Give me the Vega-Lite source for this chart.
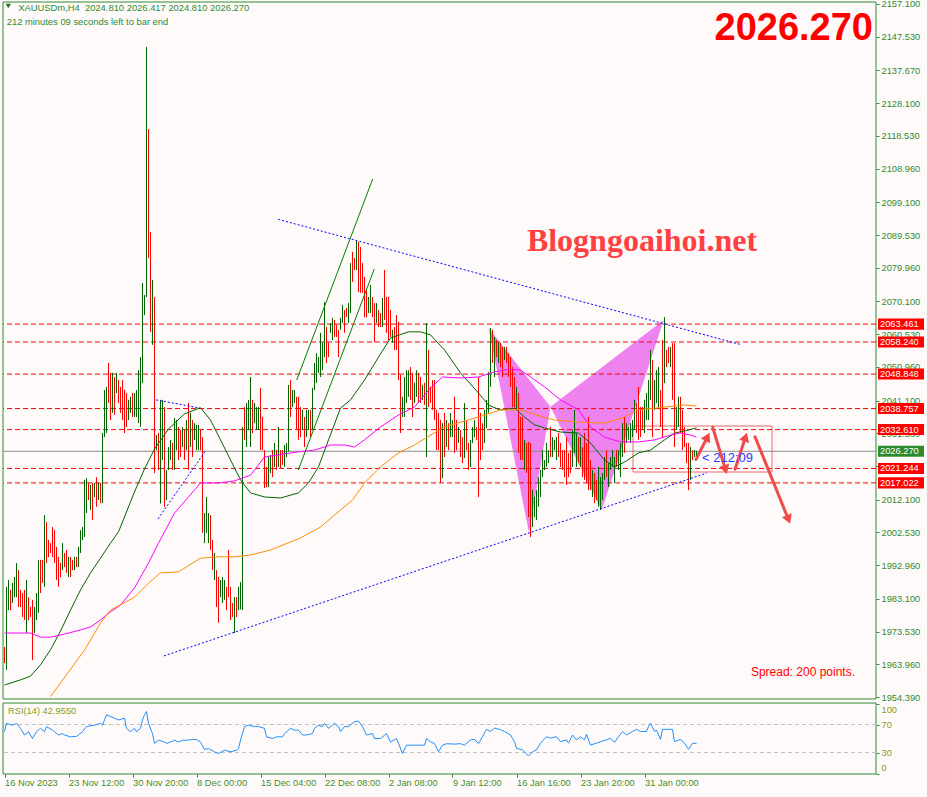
{
"$schema":"https://vega.github.io/schema/vega-lite/v6.json",
"width":873,"height":772,
"autosize":{"type":"none"},
"padding":{"left":3,"top":2,"right":51,"bottom":23},
"background":"#fffafa",
"config":{"font":"Liberation Sans","view":{"stroke":null},"axis":{"grid":false,"domain":false,"labelFont":"Liberation Sans","labelFontSize":9.3,"labelColor":"#2e8b2e","tickColor":"#2e8b2e","tickSize":3,"labelOverlap":false,"labelPadding":2}},
"datasets":{
"k":[
{"i":0,"o":1968,"h":1969,"l":1964.3,"c":1965},{"i":1,"o":1965,"h":1986.6,"l":1962.3,"c":1985},{"i":2,"o":1984.5,"h":1988.6,"l":1979.8,"c":1987},{"i":3,"o":1985.5,"h":1985.7,"l":1979.8,"c":1981},{"i":4,"o":1982,"h":1987.8,"l":1981.9,"c":1986},{"i":5,"o":1986,"h":1989.5,"l":1983.6,"c":1988.5},{"i":6,"o":1985,"h":1993.6,"l":1983.6,"c":1992},{"i":7,"o":1991,"h":1991.5,"l":1980.7,"c":1984},{"i":8,"o":1984,"h":1985.7,"l":1980.7,"c":1981.5},{"i":9,"o":1982,"h":1984.8,"l":1977.8,"c":1979},
{"i":10,"o":1983,"h":1985.7,"l":1976.9,"c":1978},{"i":11,"o":1977,"h":1988.6,"l":1973.1,"c":1986},{"i":12,"o":1983,"h":1983.6,"l":1976.9,"c":1978},{"i":13,"o":1980,"h":1980.7,"l":1977.8,"c":1978},{"i":14,"o":1981,"h":1982.8,"l":1965.2,"c":1970},{"i":15,"o":1974,"h":1980.7,"l":1973.1,"c":1979},{"i":16,"o":1978,"h":1984.8,"l":1976.9,"c":1984},{"i":17,"o":1981,"h":1994.5,"l":1979,"c":1992},{"i":18,"o":1992,"h":1994.5,"l":1984.8,"c":1987},{"i":19,"o":1993,"h":1994.5,"l":1987.8,"c":1989},
{"i":20,"o":1990,"h":2007.6,"l":1986.6,"c":2005},{"i":21,"o":2004.5,"h":2005.6,"l":1993.6,"c":1997},{"i":22,"o":1999,"h":2000.3,"l":1995.3,"c":1996},{"i":23,"o":1998.5,"h":1999.4,"l":1996.5,"c":1997},{"i":24,"o":2002,"h":2004.1,"l":1995.3,"c":1996},{"i":25,"o":1999,"h":2003.2,"l":1993.6,"c":1994},{"i":26,"o":1996,"h":1998.3,"l":1988.6,"c":1990},{"i":27,"o":1992,"h":1995.4,"l":1986.6,"c":1988},{"i":28,"o":1992,"h":1993.6,"l":1989.5,"c":1990},{"i":29,"o":1991.6,"h":1999.4,"l":1991.5,"c":1997},
{"i":30,"o":1996,"h":1996.5,"l":1992.4,"c":1993},{"i":31,"o":1995,"h":1997.4,"l":1990.7,"c":1991.5},{"i":32,"o":1991,"h":1995.4,"l":1989.5,"c":1995},{"i":33,"o":1994.5,"h":1995.4,"l":1989.5,"c":1990},{"i":34,"o":1993.5,"h":1994.5,"l":1991.5,"c":1992},{"i":35,"o":1992,"h":1995.4,"l":1991.5,"c":1995},{"i":36,"o":1995,"h":1995.4,"l":1992.4,"c":1993},{"i":37,"o":1993,"h":1998.3,"l":1992.4,"c":1997.5},{"i":38,"o":1997,"h":2003.2,"l":1996.5,"c":2002.5},{"i":39,"o":2001,"h":2004.1,"l":2000.3,"c":2003.5},
{"i":40,"o":2003,"h":2017.9,"l":2001.2,"c":2016},{"i":41,"o":2010,"h":2018.4,"l":2008.2,"c":2017},{"i":42,"o":2016.5,"h":2017,"l":2012,"c":2013},{"i":43,"o":2012,"h":2016.4,"l":2009.1,"c":2015.5},{"i":44,"o":2015.5,"h":2017,"l":2006.2,"c":2008},{"i":45,"o":2013,"h":2017,"l":2012.9,"c":2016},{"i":46,"o":2016,"h":2018.7,"l":2010,"c":2011},{"i":47,"o":2012,"h":2017,"l":2012,"c":2016},{"i":48,"o":2016,"h":2017,"l":2011.1,"c":2012},{"i":49,"o":2012,"h":2031.6,"l":2011.1,"c":2030},
{"i":50,"o":2031,"h":2044.2,"l":2030.4,"c":2042},{"i":51,"o":2036,"h":2045.1,"l":2031.6,"c":2043},{"i":52,"o":2047,"h":2052.1,"l":2040.4,"c":2042},{"i":53,"o":2046,"h":2049.2,"l":2035.4,"c":2038},{"i":54,"o":2040,"h":2049.2,"l":2037.5,"c":2047},{"i":55,"o":2047,"h":2048,"l":2036.9,"c":2040},{"i":56,"o":2044,"h":2049.2,"l":2043.3,"c":2048},{"i":57,"o":2047,"h":2047.1,"l":2040.4,"c":2041},{"i":58,"o":2043,"h":2045.1,"l":2037.5,"c":2039},{"i":59,"o":2045,"h":2047.1,"l":2035.4,"c":2038},
{"i":60,"o":2041,"h":2044.2,"l":2031.6,"c":2034},{"i":61,"o":2038,"h":2043.3,"l":2033.4,"c":2035},{"i":62,"o":2036,"h":2041.3,"l":2035.4,"c":2040},{"i":63,"o":2038.5,"h":2042.2,"l":2037.5,"c":2041},{"i":64,"o":2042,"h":2043.3,"l":2036.3,"c":2038},{"i":65,"o":2038,"h":2043.3,"l":2036.3,"c":2042},{"i":66,"o":2038,"h":2044.2,"l":2036.3,"c":2043},{"i":67,"o":2040,"h":2050,"l":2034.5,"c":2048},{"i":68,"o":2044,"h":2053.8,"l":2033.4,"c":2052},{"i":69,"o":2050,"h":2075.5,"l":2046.2,"c":2073},
{"i":70,"o":2068,"h":2072,"l":2066.1,"c":2071},{"i":71,"o":2071.5,"h":2144.5,"l":2071.4,"c":2118},{"i":72,"o":2118,"h":2120.5,"l":2082.8,"c":2085},{"i":73,"o":2086,"h":2090.4,"l":2061.2,"c":2064},{"i":74,"o":2062,"h":2076.4,"l":2057.4,"c":2072},{"i":75,"o":2070,"h":2071.4,"l":2019.9,"c":2028},{"i":76,"o":2027,"h":2031,"l":2026.6,"c":2030},{"i":77,"o":2030,"h":2031.6,"l":2020.8,"c":2022},{"i":78,"o":2022,"h":2041.3,"l":2011,"c":2038},{"i":79,"o":2030,"h":2041.3,"l":2023.7,"c":2040},
{"i":80,"o":2037,"h":2039.2,"l":2010,"c":2015},{"i":81,"o":2014,"h":2020.8,"l":2012,"c":2019},{"i":82,"o":2021,"h":2027.5,"l":2020.8,"c":2026},{"i":83,"o":2025,"h":2029.6,"l":2023.7,"c":2028},{"i":84,"o":2028,"h":2028.7,"l":2020.8,"c":2023},{"i":85,"o":2022,"h":2036,"l":2020.8,"c":2034},{"i":86,"o":2030,"h":2035.4,"l":2026.6,"c":2034},{"i":87,"o":2033,"h":2033.4,"l":2023.7,"c":2026},{"i":88,"o":2031,"h":2032.5,"l":2024.6,"c":2027},{"i":89,"o":2028,"h":2033.4,"l":2027.5,"c":2032},
{"i":90,"o":2032,"h":2032.5,"l":2023.7,"c":2025},{"i":91,"o":2027,"h":2035.4,"l":2026.6,"c":2034},{"i":92,"o":2036,"h":2040.4,"l":2020.8,"c":2024},{"i":93,"o":2028,"h":2037.5,"l":2027.5,"c":2036},{"i":94,"o":2034,"h":2035.4,"l":2024.6,"c":2027},{"i":95,"o":2030,"h":2034.5,"l":2029.6,"c":2033},{"i":96,"o":2029,"h":2034,"l":2026.6,"c":2033},{"i":97,"o":2030,"h":2034,"l":2026.6,"c":2032.5},{"i":98,"o":2032,"h":2032.5,"l":2026.6,"c":2028},{"i":99,"o":2028,"h":2030.4,"l":2002.4,"c":2005},
{"i":100,"o":2002,"h":2008.2,"l":1999.4,"c":2006},{"i":101,"o":2004,"h":2012.9,"l":2002.4,"c":2011},{"i":102,"o":2003,"h":2008.2,"l":1999.4,"c":2007},{"i":103,"o":2007,"h":2007.6,"l":1997.4,"c":1999},{"i":104,"o":1999,"h":2000.3,"l":1991.5,"c":1993},{"i":105,"o":1990,"h":1996.5,"l":1988.6,"c":1995},{"i":106,"o":1991,"h":1991.5,"l":1980.7,"c":1983},{"i":107,"o":1985,"h":1989.5,"l":1976.1,"c":1979},{"i":108,"o":1984,"h":1988.6,"l":1983.6,"c":1987},{"i":109,"o":1984,"h":1989.5,"l":1981.9,"c":1988},
{"i":110,"o":1985,"h":1988.6,"l":1982.8,"c":1988},{"i":111,"o":1986,"h":1986.6,"l":1979.8,"c":1981},{"i":112,"o":1993,"h":1997.4,"l":1983.6,"c":1985},{"i":113,"o":1985,"h":1986.6,"l":1976.9,"c":1979},{"i":114,"o":1981,"h":1981.9,"l":1977.8,"c":1978.5},{"i":115,"o":1975,"h":1983.6,"l":1973.1,"c":1981},{"i":116,"o":1982,"h":1983.6,"l":1977.8,"c":1979},{"i":117,"o":1980,"h":1986.6,"l":1979.8,"c":1985},{"i":118,"o":1982,"h":1988,"l":1980,"c":1986},{"i":119,"o":1984,"h":2033.4,"l":1979.8,"c":2031},
{"i":120,"o":2036,"h":2039.2,"l":2029.6,"c":2031},{"i":121,"o":2030,"h":2040.4,"l":2027.5,"c":2038},{"i":122,"o":2035,"h":2041.3,"l":2032.5,"c":2040},{"i":123,"o":2032,"h":2048,"l":2027.5,"c":2045},{"i":124,"o":2040,"h":2041.3,"l":2031.6,"c":2034},{"i":125,"o":2035,"h":2040.4,"l":2034.5,"c":2039},{"i":126,"o":2034,"h":2039.2,"l":2032.5,"c":2038},{"i":127,"o":2034,"h":2039.2,"l":2032.5,"c":2038.5},{"i":128,"o":2040,"h":2044.8,"l":2026.6,"c":2030},{"i":129,"o":2033,"h":2036.3,"l":2026.6,"c":2028},
{"i":130,"o":2026,"h":2026.6,"l":2015.5,"c":2018},{"i":131,"o":2020,"h":2021.7,"l":2015.8,"c":2017},{"i":132,"o":2017,"h":2024.6,"l":2015.8,"c":2023},{"i":133,"o":2021,"h":2025.2,"l":2019.9,"c":2024},{"i":134,"o":2025,"h":2026.6,"l":2018.7,"c":2020},{"i":135,"o":2022,"h":2028.7,"l":2021.7,"c":2027},{"i":136,"o":2026,"h":2026.6,"l":2020.8,"c":2022},{"i":137,"o":2023,"h":2033.4,"l":2021.7,"c":2031},{"i":138,"o":2026,"h":2026.6,"l":2021.4,"c":2022.5},{"i":139,"o":2025.5,"h":2026.6,"l":2022.3,"c":2023},
{"i":140,"o":2023,"h":2028.1,"l":2021.7,"c":2027},{"i":141,"o":2025,"h":2028.7,"l":2024.6,"c":2028},{"i":142,"o":2027,"h":2045.7,"l":2026.1,"c":2044},{"i":143,"o":2045,"h":2047.1,"l":2036.3,"c":2039},{"i":144,"o":2039.5,"h":2044.2,"l":2039.2,"c":2043.5},{"i":145,"o":2041,"h":2044.2,"l":2040.4,"c":2043.5},{"i":146,"o":2041.5,"h":2042.2,"l":2032.5,"c":2035},{"i":147,"o":2040,"h":2042.2,"l":2029.6,"c":2032},{"i":148,"o":2036,"h":2039.2,"l":2030.4,"c":2032},{"i":149,"o":2033,"h":2038.4,"l":2032.5,"c":2037},
{"i":150,"o":2035,"h":2036.3,"l":2027.5,"c":2030},{"i":151,"o":2031,"h":2038.4,"l":2030.4,"c":2037},{"i":152,"o":2034,"h":2038.4,"l":2032.5,"c":2037.5},{"i":153,"o":2037,"h":2038.4,"l":2030.4,"c":2032},{"i":154,"o":2033,"h":2044.8,"l":2032.5,"c":2043},{"i":155,"o":2045,"h":2052.1,"l":2044.2,"c":2051},{"i":156,"o":2048,"h":2055,"l":2046.3,"c":2053},{"i":157,"o":2050,"h":2053.8,"l":2049.2,"c":2053},{"i":158,"o":2050,"h":2060.9,"l":2048,"c":2059},{"i":159,"o":2052,"h":2058,"l":2050,"c":2057},
{"i":160,"o":2056,"h":2069.9,"l":2053.8,"c":2068},{"i":161,"o":2061,"h":2062.6,"l":2052.1,"c":2054},{"i":162,"o":2057.5,"h":2058,"l":2053.8,"c":2054.5},{"i":163,"o":2061,"h":2063.8,"l":2060.9,"c":2063},{"i":164,"o":2060,"h":2065.3,"l":2058.8,"c":2064},{"i":165,"o":2064,"h":2064.7,"l":2059.7,"c":2061},{"i":166,"o":2062.5,"h":2063.2,"l":2059.7,"c":2060.5},{"i":167,"o":2061,"h":2061.8,"l":2053.8,"c":2056},{"i":168,"o":2062,"h":2065.3,"l":2061.8,"c":2065},{"i":169,"o":2064,"h":2069.1,"l":2063.8,"c":2068},
{"i":170,"o":2067,"h":2067.6,"l":2060.9,"c":2062},{"i":171,"o":2068,"h":2068.2,"l":2065.5,"c":2066},{"i":172,"o":2065,"h":2069.6,"l":2063.8,"c":2069},{"i":173,"o":2068,"h":2081.3,"l":2066.7,"c":2079},{"i":174,"o":2083,"h":2084.6,"l":2075.8,"c":2078},{"i":175,"o":2082,"h":2082.8,"l":2079.3,"c":2080},{"i":176,"o":2080,"h":2088.1,"l":2079.3,"c":2087},{"i":177,"o":2086,"h":2087.5,"l":2072.9,"c":2075},{"i":178,"o":2084,"h":2086,"l":2072.6,"c":2075},{"i":179,"o":2079,"h":2081.3,"l":2072.6,"c":2074},
{"i":180,"o":2075,"h":2077.3,"l":2065.5,"c":2068},{"i":181,"o":2071,"h":2073.4,"l":2065.5,"c":2067},{"i":182,"o":2067,"h":2071.4,"l":2066.7,"c":2070.5},{"i":183,"o":2068,"h":2074.9,"l":2066.7,"c":2073},{"i":184,"o":2071,"h":2071.4,"l":2065.5,"c":2067},{"i":185,"o":2068,"h":2069.6,"l":2058.2,"c":2061},{"i":186,"o":2064,"h":2069.6,"l":2063.8,"c":2068.5},{"i":187,"o":2067,"h":2067.6,"l":2062.6,"c":2064},{"i":188,"o":2066,"h":2066.7,"l":2062.6,"c":2063.5},{"i":189,"o":2063,"h":2071.1,"l":2062.6,"c":2069},
{"i":190,"o":2077,"h":2079.3,"l":2064.7,"c":2067},{"i":191,"o":2070,"h":2071.4,"l":2060.9,"c":2063},{"i":192,"o":2068,"h":2071.4,"l":2058.8,"c":2061},{"i":193,"o":2066,"h":2067.6,"l":2059.7,"c":2061},{"i":194,"o":2058.5,"h":2061.8,"l":2058,"c":2061},{"i":195,"o":2061,"h":2062.6,"l":2055.9,"c":2057},{"i":196,"o":2063,"h":2066.1,"l":2055.9,"c":2057},{"i":197,"o":2060,"h":2064.1,"l":2047.1,"c":2049},{"i":198,"o":2048,"h":2048.6,"l":2031.6,"c":2035},{"i":199,"o":2037,"h":2042.2,"l":2036.3,"c":2041},
{"i":200,"o":2038,"h":2048,"l":2036.3,"c":2046},{"i":201,"o":2042,"h":2050,"l":2040.4,"c":2048},{"i":202,"o":2043,"h":2050,"l":2042.2,"c":2049},{"i":203,"o":2049,"h":2050.9,"l":2041.3,"c":2043},{"i":204,"o":2046,"h":2049.2,"l":2036.3,"c":2039},{"i":205,"o":2041,"h":2046.3,"l":2040.4,"c":2045},{"i":206,"o":2043,"h":2050,"l":2042.2,"c":2048},{"i":207,"o":2048,"h":2049.2,"l":2040.4,"c":2042},{"i":208,"o":2046,"h":2048,"l":2040.4,"c":2041.5},{"i":209,"o":2042,"h":2045.7,"l":2041.3,"c":2045},
{"i":210,"o":2045,"h":2046.3,"l":2039.8,"c":2041},{"i":211,"o":2040,"h":2063.8,"l":2024.6,"c":2058},{"i":212,"o":2055,"h":2055.9,"l":2039.2,"c":2042},{"i":213,"o":2044,"h":2045.1,"l":2040.4,"c":2041.5},{"i":214,"o":2045,"h":2047.1,"l":2038.4,"c":2040},{"i":215,"o":2044,"h":2047.1,"l":2035.4,"c":2037},{"i":216,"o":2037,"h":2038.4,"l":2026.6,"c":2029},{"i":217,"o":2033,"h":2037.5,"l":2026.6,"c":2028},{"i":218,"o":2032,"h":2035.4,"l":2017,"c":2020},{"i":219,"o":2021,"h":2034.5,"l":2018.4,"c":2032},
{"i":220,"o":2035,"h":2037.5,"l":2024.6,"c":2027},{"i":221,"o":2028,"h":2035.4,"l":2027.5,"c":2034},{"i":222,"o":2033.5,"h":2034.5,"l":2026.6,"c":2028},{"i":223,"o":2031,"h":2037.5,"l":2030.4,"c":2036.5},{"i":224,"o":2031,"h":2035.4,"l":2030.4,"c":2035},{"i":225,"o":2037,"h":2042.2,"l":2025.8,"c":2028},{"i":226,"o":2034,"h":2035.4,"l":2026.6,"c":2029},{"i":227,"o":2029,"h":2033.4,"l":2028.7,"c":2033},{"i":228,"o":2032,"h":2032.5,"l":2024.6,"c":2026},{"i":229,"o":2028,"h":2030.4,"l":2022.8,"c":2024},
{"i":230,"o":2025,"h":2040.4,"l":2024.3,"c":2038},{"i":231,"o":2034,"h":2035.4,"l":2026.6,"c":2028},{"i":232,"o":2028,"h":2028.7,"l":2020.8,"c":2022},{"i":233,"o":2022,"h":2029.6,"l":2021.7,"c":2028.5},{"i":234,"o":2029,"h":2033.4,"l":2028.7,"c":2033},{"i":235,"o":2031,"h":2035.4,"l":2030.4,"c":2035},{"i":236,"o":2033,"h":2033.4,"l":2029.6,"c":2030.5},{"i":237,"o":2031,"h":2048,"l":2012.9,"c":2018},{"i":238,"o":2031,"h":2037.5,"l":2023.7,"c":2026},{"i":239,"o":2032,"h":2034.5,"l":2026.6,"c":2028},
{"i":240,"o":2029,"h":2038.4,"l":2028.7,"c":2037},{"i":241,"o":2035,"h":2041.3,"l":2033.1,"c":2040},{"i":242,"o":2039,"h":2049.5,"l":2037.5,"c":2048},{"i":243,"o":2047,"h":2062.3,"l":2045.1,"c":2060},{"i":244,"o":2060,"h":2061.8,"l":2052.1,"c":2054},{"i":245,"o":2050,"h":2059.7,"l":2048,"c":2058},{"i":246,"o":2058,"h":2058.8,"l":2053.8,"c":2055},{"i":247,"o":2053,"h":2058,"l":2052.1,"c":2057},{"i":248,"o":2057,"h":2058,"l":2050.9,"c":2052},{"i":249,"o":2054,"h":2056.8,"l":2048,"c":2049.5},
{"i":250,"o":2053.5,"h":2056.8,"l":2053,"c":2056},{"i":251,"o":2056,"h":2056.8,"l":2052.1,"c":2053},{"i":252,"o":2054,"h":2055,"l":2048,"c":2049},{"i":253,"o":2052,"h":2053.8,"l":2045.1,"c":2047},{"i":254,"o":2049,"h":2050.9,"l":2039.2,"c":2041},{"i":255,"o":2045,"h":2048,"l":2039.2,"c":2040},{"i":256,"o":2039,"h":2045.1,"l":2038.4,"c":2044},{"i":257,"o":2043,"h":2043.3,"l":2025.8,"c":2029},{"i":258,"o":2032,"h":2036.3,"l":2023.7,"c":2026},{"i":259,"o":2033,"h":2036.3,"l":2023.7,"c":2025},
{"i":260,"o":2022,"h":2029.6,"l":2020.8,"c":2028},{"i":261,"o":2028,"h":2028.7,"l":2019.9,"c":2022},{"i":262,"o":2025,"h":2029,"l":2007,"c":2010},{"i":263,"o":2012,"h":2028.7,"l":2001.2,"c":2004},{"i":264,"o":2005,"h":2014.9,"l":2004.1,"c":2013},{"i":265,"o":2008,"h":2012.9,"l":2007,"c":2012},{"i":266,"o":2008,"h":2014.9,"l":2006.2,"c":2014},{"i":267,"o":2012,"h":2018.7,"l":2010,"c":2017},{"i":268,"o":2014,"h":2020.8,"l":2012.9,"c":2019.5},{"i":269,"o":2019,"h":2026.6,"l":2018.7,"c":2025.5},
{"i":270,"o":2021,"h":2023.7,"l":2020.8,"c":2023},{"i":271,"o":2022,"h":2028.7,"l":2021.7,"c":2028},{"i":272,"o":2023,"h":2026.6,"l":2022.8,"c":2026},{"i":273,"o":2030,"h":2033.4,"l":2024.6,"c":2026},{"i":274,"o":2025,"h":2030.4,"l":2024.6,"c":2030},{"i":275,"o":2027,"h":2029.6,"l":2026.6,"c":2029},{"i":276,"o":2025,"h":2030.4,"l":2023.7,"c":2030},{"i":277,"o":2030,"h":2031.6,"l":2024.6,"c":2026},{"i":278,"o":2027,"h":2028.7,"l":2021.7,"c":2023},{"i":279,"o":2025,"h":2026.6,"l":2020.8,"c":2022},
{"i":280,"o":2024,"h":2026.6,"l":2018.7,"c":2020},{"i":281,"o":2025,"h":2030.4,"l":2016.4,"c":2019},{"i":282,"o":2024,"h":2025.8,"l":2018.7,"c":2020},{"i":283,"o":2025,"h":2026.6,"l":2019.9,"c":2021},{"i":284,"o":2022,"h":2032.5,"l":2021.7,"c":2031},{"i":285,"o":2027,"h":2038.4,"l":2025.8,"c":2036},{"i":286,"o":2023,"h":2031.6,"l":2021.7,"c":2030},{"i":287,"o":2029,"h":2030.4,"l":2022.8,"c":2024},{"i":288,"o":2023,"h":2030.4,"l":2021.7,"c":2029},{"i":289,"o":2027,"h":2027.5,"l":2018.7,"c":2021},
{"i":290,"o":2029,"h":2031.6,"l":2017.9,"c":2020},{"i":291,"o":2027,"h":2028.7,"l":2017,"c":2019},{"i":292,"o":2030,"h":2036.3,"l":2014.9,"c":2017},{"i":293,"o":2022,"h":2023.7,"l":2014.9,"c":2016},{"i":294,"o":2014,"h":2020.8,"l":2012.9,"c":2019},{"i":295,"o":2019,"h":2019.9,"l":2011.1,"c":2013},{"i":296,"o":2017,"h":2017.9,"l":2012,"c":2013},{"i":297,"o":2012,"h":2021.7,"l":2010,"c":2019},{"i":298,"o":2011,"h":2018.7,"l":2009.1,"c":2017},{"i":299,"o":2013,"h":2019.9,"l":2012,"c":2019},
{"i":300,"o":2018,"h":2024.6,"l":2017.9,"c":2024},{"i":301,"o":2025,"h":2026.6,"l":2018.7,"c":2020},{"i":302,"o":2017,"h":2022.8,"l":2015.8,"c":2022},{"i":303,"o":2021,"h":2024.6,"l":2020.8,"c":2024},{"i":304,"o":2022,"h":2026.6,"l":2021.7,"c":2026},{"i":305,"o":2018,"h":2024.6,"l":2017,"c":2024},{"i":306,"o":2026,"h":2026.6,"l":2021.7,"c":2023},{"i":307,"o":2022,"h":2026.6,"l":2020.8,"c":2026},{"i":308,"o":2020,"h":2028.7,"l":2018.7,"c":2027.5},{"i":309,"o":2026,"h":2034.5,"l":2024.6,"c":2033},
{"i":310,"o":2034,"h":2036.3,"l":2025.8,"c":2028},{"i":311,"o":2029,"h":2034.5,"l":2028.7,"c":2034},{"i":312,"o":2030,"h":2033.4,"l":2029.6,"c":2033},{"i":313,"o":2029.5,"h":2034.5,"l":2028.7,"c":2034},{"i":314,"o":2031,"h":2035.4,"l":2030.4,"c":2035},{"i":315,"o":2033,"h":2041.3,"l":2032.5,"c":2040},{"i":316,"o":2039,"h":2040.4,"l":2031.6,"c":2034},{"i":317,"o":2040,"h":2045.1,"l":2029.6,"c":2032},{"i":318,"o":2038,"h":2039.2,"l":2030.4,"c":2032},{"i":319,"o":2038,"h":2039.2,"l":2032.5,"c":2034},
{"i":320,"o":2033,"h":2041.3,"l":2031.6,"c":2040},{"i":321,"o":2036,"h":2043.3,"l":2035.4,"c":2042},{"i":322,"o":2037,"h":2047.1,"l":2035.4,"c":2045},{"i":323,"o":2043,"h":2055.9,"l":2041.3,"c":2054},{"i":324,"o":2052,"h":2053,"l":2030.4,"c":2035},{"i":325,"o":2039,"h":2047.1,"l":2038.4,"c":2046},{"i":326,"o":2042,"h":2050,"l":2040.4,"c":2049},{"i":327,"o":2041,"h":2050.9,"l":2039.2,"c":2049},{"i":328,"o":2043,"h":2044.2,"l":2033.4,"c":2036},{"i":329,"o":2052,"h":2058.8,"l":2030.4,"c":2037},
{"i":330,"o":2047,"h":2065.5,"l":2046.2,"c":2058},{"i":331,"o":2055.5,"h":2055.9,"l":2050.9,"c":2052},{"i":332,"o":2056,"h":2056.8,"l":2052.1,"c":2053},{"i":333,"o":2052,"h":2056.8,"l":2050.9,"c":2056},{"i":334,"o":2056,"h":2057.9,"l":2041.3,"c":2044},{"i":335,"o":2055,"h":2057.9,"l":2027.5,"c":2031},{"i":336,"o":2033,"h":2039.2,"l":2032.5,"c":2038.5},{"i":337,"o":2035,"h":2042.2,"l":2033.4,"c":2041},{"i":338,"o":2041,"h":2042.2,"l":2031.6,"c":2034},{"i":339,"o":2036,"h":2038.4,"l":2026.6,"c":2029},
{"i":340,"o":2032,"h":2033.4,"l":2027.5,"c":2029},{"i":341,"o":2028,"h":2028.7,"l":2022.8,"c":2024},{"i":342,"o":2027,"h":2028.7,"l":2014.9,"c":2022},{"i":343,"o":2020,"h":2027.5,"l":2017.9,"c":2026},{"i":344,"o":2026.5,"h":2026.6,"l":2023.7,"c":2024.5},{"i":345,"o":2024.8,"h":2026.6,"l":2024.6,"c":2026.4},{"i":346,"o":2024.81,"h":2026.417,"l":2024.81,"c":2026.27}
],
"rsi":[
{"i":0,"r":59.7},{"i":1,"r":71.7},{"i":4,"r":69},{"i":6,"r":71.7},{"i":8,"r":64.5},{"i":10,"r":55},{"i":12,"r":59.7},{"i":14,"r":50},{"i":16,"r":59.7},{"i":18,"r":64.5},{"i":20,"r":59.7},{"i":21,"r":67},{"i":24,"r":62},{"i":25,"r":59.7},{"i":27,"r":55},{"i":29,"r":57},{"i":30,"r":55},{"i":33,"r":52.4},{"i":36,"r":53},{"i":39,"r":59.7},{"i":41,"r":67},{"i":45,"r":69},{"i":48,"r":71.7},{"i":49,"r":69},{"i":51,"r":84},{"i":55,"r":79},{"i":57,"r":76.5},{"i":60,"r":79},{"i":61,"r":64.5},{"i":63,"r":59.7},{"i":65,"r":64.5},{"i":66,"r":59.7},{"i":68,"r":64.5},{"i":69,"r":76.5},{"i":70,"r":84},{"i":71,"r":88.6},{"i":72,"r":71.7},{"i":74,"r":57},{"i":75,"r":43},{"i":77,"r":47.6},{"i":80,"r":45},{"i":81,"r":43},{"i":83,"r":45},{"i":85,"r":47.6},{"i":87,"r":45},{"i":89,"r":47.6},{"i":91,"r":47.6},{"i":94,"r":48.6},{"i":96,"r":48.6},{"i":98,"r":45},{"i":100,"r":34.3},{"i":102,"r":35.7},{"i":105,"r":31},{"i":107,"r":28.6},{"i":110,"r":33.3},{"i":113,"r":31},{"i":116,"r":33.3},{"i":117,"r":35.7},{"i":118,"r":47.6},{"i":120,"r":67},{"i":122,"r":69},{"i":125,"r":67},{"i":127,"r":67},{"i":130,"r":64.5},{"i":131,"r":52.4},{"i":134,"r":50},{"i":136,"r":52.4},{"i":139,"r":52.4},{"i":140,"r":57},{"i":143,"r":64.5},{"i":145,"r":62},{"i":147,"r":62},{"i":149,"r":55},{"i":151,"r":55},{"i":154,"r":57},{"i":155,"r":64.5},{"i":157,"r":69},{"i":159,"r":67},{"i":160,"r":71.7},{"i":162,"r":64.5},{"i":164,"r":69},{"i":165,"r":71.7},{"i":167,"r":67},{"i":168,"r":59.7},{"i":170,"r":67},{"i":172,"r":67},{"i":174,"r":71.7},{"i":175,"r":74},{"i":177,"r":75},{"i":179,"r":67},{"i":181,"r":55},{"i":184,"r":57},{"i":185,"r":50},{"i":188,"r":50},{"i":191,"r":57},{"i":193,"r":45},{"i":196,"r":50},{"i":197,"r":43},{"i":199,"r":28.6},{"i":201,"r":40.5},{"i":205,"r":40.5},{"i":208,"r":40.5},{"i":210,"r":40.5},{"i":211,"r":50},{"i":213,"r":45},{"i":215,"r":43},{"i":217,"r":31},{"i":219,"r":40.5},{"i":221,"r":42.6},{"i":225,"r":42},{"i":228,"r":42.6},{"i":230,"r":40.5},{"i":233,"r":47.9},{"i":235,"r":48.8},{"i":237,"r":42.6},{"i":239,"r":52.6},{"i":241,"r":63.1},{"i":243,"r":60},{"i":245,"r":64.8},{"i":248,"r":62.6},{"i":250,"r":60},{"i":253,"r":55},{"i":255,"r":45.5},{"i":256,"r":36},{"i":259,"r":33.8},{"i":261,"r":27.9},{"i":262,"r":25},{"i":264,"r":31},{"i":266,"r":33.8},{"i":268,"r":43.3},{"i":271,"r":52.6},{"i":273,"r":50.5},{"i":276,"r":52.6},{"i":278,"r":45.5},{"i":281,"r":48},{"i":282,"r":43.3},{"i":284,"r":55},{"i":286,"r":48},{"i":288,"r":52.6},{"i":290,"r":48},{"i":291,"r":56},{"i":293,"r":40.7},{"i":296,"r":43.3},{"i":298,"r":45.5},{"i":301,"r":48},{"i":303,"r":50.5},{"i":305,"r":44.5},{"i":307,"r":52.6},{"i":309,"r":60},{"i":311,"r":55},{"i":314,"r":60},{"i":316,"r":63.1},{"i":318,"r":60},{"i":321,"r":60},{"i":322,"r":67.2},{"i":323,"r":71.7},{"i":325,"r":60},{"i":326,"r":62},{"i":328,"r":48.8},{"i":329,"r":63.1},{"i":332,"r":63.1},{"i":334,"r":63.1},{"i":335,"r":45.5},{"i":338,"r":48.8},{"i":340,"r":43.3},{"i":342,"r":34.5},{"i":344,"r":43.3},{"i":346,"r":42.96}
],
"ma":[
{"s":"f","i":0,"v":1957.9},{"s":"f","i":8,"v":1959.4},{"s":"f","i":13,"v":1960.5},{"s":"f","i":18,"v":1963.8},{"s":"f","i":23,"v":1968.2},{"s":"f","i":28,"v":1973.7},{"s":"f","i":33,"v":1979.8},{"s":"f","i":38,"v":1985.7},{"s":"f","i":43,"v":1990.7},{"s":"f","i":48,"v":1995},{"s":"f","i":53,"v":1999.4},{"s":"f","i":57,"v":2002.7},{"s":"f","i":65,"v":2014.4},{"s":"f","i":70,"v":2021.1},{"s":"f","i":75,"v":2026.9},{"s":"f","i":82,"v":2032.8},{"s":"f","i":90,"v":2037.2},{"s":"f","i":98,"v":2039},{"s":"f","i":103,"v":2035.4},{"s":"f","i":108,"v":2029.6},{"s":"f","i":115,"v":2021.4},{"s":"f","i":118,"v":2017.9},{"s":"f","i":123,"v":2014.1},{"s":"f","i":130,"v":2012.9},{"s":"f","i":138,"v":2012.6},{"s":"f","i":147,"v":2014.1},{"s":"f","i":152,"v":2017},{"s":"f","i":157,"v":2021.7},{"s":"f","i":162,"v":2029.6},{"s":"f","i":168,"v":2038.9},{"s":"f","i":173,"v":2041.3},{"s":"f","i":180,"v":2047.1},{"s":"f","i":187,"v":2053.8},{"s":"f","i":193,"v":2059.4},{"s":"f","i":202,"v":2061.2},{"s":"f","i":208,"v":2061.2},{"s":"f","i":213,"v":2060.3},{"s":"f","i":220,"v":2055.9},{"s":"f","i":228,"v":2049.2},{"s":"f","i":237,"v":2043.3},{"s":"f","i":242,"v":2039.8},{"s":"f","i":248,"v":2038.3},{"s":"f","i":255,"v":2038.9},{"s":"f","i":260,"v":2036.3},{"s":"f","i":265,"v":2034},{"s":"f","i":270,"v":2033.1},{"s":"f","i":278,"v":2031.9},{"s":"f","i":287,"v":2031.6},{"s":"f","i":293,"v":2028.7},{"s":"f","i":300,"v":2023.7},{"s":"f","i":305,"v":2021.7},{"s":"f","i":310,"v":2023.1},{"s":"f","i":317,"v":2025.8},{"s":"f","i":323,"v":2026.6},{"s":"f","i":330,"v":2029.6},{"s":"f","i":335,"v":2031.6},{"s":"f","i":340,"v":2032.2},{"s":"f","i":346,"v":2033.1},
{"s":"m","i":0,"v":1973.1},{"s":"m","i":13,"v":1973.1},{"s":"m","i":18,"v":1971.9},{"s":"m","i":23,"v":1971.9},{"s":"m","i":28,"v":1972.5},{"s":"m","i":38,"v":1974},{"s":"m","i":43,"v":1974.9},{"s":"m","i":48,"v":1976.9},{"s":"m","i":53,"v":1979.3},{"s":"m","i":58,"v":1981.3},{"s":"m","i":65,"v":1986.3},{"s":"m","i":72,"v":1993.6},{"s":"m","i":77,"v":1999.4},{"s":"m","i":85,"v":2008.2},{"s":"m","i":92,"v":2012.9},{"s":"m","i":98,"v":2017},{"s":"m","i":107,"v":2017},{"s":"m","i":115,"v":2017.6},{"s":"m","i":123,"v":2019.3},{"s":"m","i":130,"v":2024.6},{"s":"m","i":147,"v":2026.1},{"s":"m","i":155,"v":2026.6},{"s":"m","i":163,"v":2028.1},{"s":"m","i":170,"v":2028.1},{"s":"m","i":175,"v":2027.5},{"s":"m","i":180,"v":2029.6},{"s":"m","i":188,"v":2033.4},{"s":"m","i":197,"v":2036.9},{"s":"m","i":205,"v":2039.2},{"s":"m","i":213,"v":2044.8},{"s":"m","i":219,"v":2048},{"s":"m","i":228,"v":2047.7},{"s":"m","i":237,"v":2048},{"s":"m","i":245,"v":2049.5},{"s":"m","i":253,"v":2050.3},{"s":"m","i":258,"v":2050},{"s":"m","i":263,"v":2048},{"s":"m","i":270,"v":2045.1},{"s":"m","i":278,"v":2041.3},{"s":"m","i":287,"v":2038.4},{"s":"m","i":293,"v":2033.4},{"s":"m","i":300,"v":2030.4},{"s":"m","i":308,"v":2029},{"s":"m","i":317,"v":2029},{"s":"m","i":325,"v":2029.6},{"s":"m","i":333,"v":2031},{"s":"m","i":338,"v":2031.6},{"s":"m","i":343,"v":2031},{"s":"m","i":346,"v":2030.4},
{"s":"s","i":23,"v":1954.5},{"s":"s","i":32,"v":1961.7},{"s":"s","i":40,"v":1968.1},{"s":"s","i":48,"v":1976},{"s":"s","i":53,"v":1979.8},{"s":"s","i":65,"v":1983.6},{"s":"s","i":72,"v":1987.7},{"s":"s","i":78,"v":1990.7},{"s":"s","i":87,"v":1991},{"s":"s","i":98,"v":1995},{"s":"s","i":107,"v":1995.4},{"s":"s","i":115,"v":1995.4},{"s":"s","i":123,"v":1995.9},{"s":"s","i":133,"v":1997.4},{"s":"s","i":148,"v":2000.9},{"s":"s","i":158,"v":2004.1},{"s":"s","i":168,"v":2009.1},{"s":"s","i":174,"v":2012},{"s":"s","i":180,"v":2017},{"s":"s","i":188,"v":2021.7},{"s":"s","i":197,"v":2025.8},{"s":"s","i":205,"v":2028.1},{"s":"s","i":213,"v":2031},{"s":"s","i":220,"v":2033.4},{"s":"s","i":237,"v":2036.3},{"s":"s","i":248,"v":2038.4},{"s":"s","i":258,"v":2038.4},{"s":"s","i":266,"v":2036.9},{"s":"s","i":275,"v":2035.4},{"s":"s","i":287,"v":2034.8},{"s":"s","i":300,"v":2034.5},{"s":"s","i":310,"v":2036.3},{"s":"s","i":317,"v":2038.4},{"s":"s","i":330,"v":2039.2},{"s":"s","i":340,"v":2039.8},{"s":"s","i":346,"v":2039.5}
],
"tl":[
{"s":"u","k":"b","i":136.9,"p":2094.1},{"s":"u","k":"b","i":368.6,"p":2057.4},
{"s":"d","k":"b","i":79.75,"p":1966.4},{"s":"d","k":"b","i":351.1,"p":2019.9},
{"s":"t","k":"b","i":75.75,"p":2041.3},{"s":"t","k":"b","i":97.75,"p":2038.9},
{"s":"q","k":"b","i":76.75,"p":2006.5},{"s":"q","k":"b","i":100.75,"p":2026.6},
{"s":"g1","k":"g","i":146.1,"p":2047.1},{"s":"g1","k":"g","i":184.1,"p":2105.9},
{"s":"g2","k":"g","i":146.9,"p":2020.8},{"s":"g2","k":"g","i":184.9,"p":2079.6}
],
"hm":[
{"t":1,"k":0,"i":242.1,"p":2062.3},{"t":1,"k":1,"i":262.25,"p":2002.4},{"t":1,"k":2,"i":273,"p":2039.3},
{"t":2,"k":0,"i":273,"p":2039.3},{"t":2,"k":1,"i":298.6,"p":2009.1},{"t":2,"k":2,"i":329.6,"p":2064.7}
],
"arr":[
{"a":1,"i":345.75,"p":2023.9},{"a":1,"i":351.5,"p":2030.5},
{"a":2,"i":354.1,"p":2033.3},{"a":2,"i":360.5,"p":2020.9},
{"a":3,"i":365.25,"p":2021.0},{"a":3,"i":370.5,"p":2030.4},
{"a":4,"i":375.25,"p":2030.5},{"a":4,"i":392,"p":2006.3}
],
"lv":[{"p":2063.461},{"p":2058.24},{"p":2048.848},{"p":2038.757},{"p":2032.61},{"p":2021.244},{"p":2017.022}]
},
"resolve":{"scale":{"y":"independent"}},
"layer":[
{"layer":[
{"data":{"name":"hm"},"mark":{"type":"line","interpolate":"linear-closed","filled":true,"color":"#ee82ee","opacity":1},
 "encoding":{
  "x":{"field":"i","type":"quantitative","title":null,"scale":{"domain":[-0.75,435.75],"nice":false,"zero":false},
   "axis":{"orient":"bottom","tickCount":100,"values":[0,32,64,96,128,160,192,224,256,288,320],"labelAlign":"left","labelPadding":1,"tickSize":3,"labelColor":"#3f8f1f","labelOverlap":false,"labelFlush":false,
    "labelExpr":"['16 Nov 2023','23 Nov 12:00','30 Nov 20:00','8 Dec 00:00','15 Dec 04:00','22 Dec 08:00','2 Jan 08:00','9 Jan 12:00','16 Jan 16:00','23 Jan 20:00','31 Jan 00:00'][round(datum.value/32)]"}},
  "y":{"field":"p","type":"quantitative","title":null,"scale":{"domain":[1931.867,2157.685],"nice":false,"zero":false},
   "axis":{"orient":"right","tickCount":100,"labelOverlap":false,"labelFlush":false,"labelBound":false,"values":[1954.39,1963.96,1973.53,1983.1,1992.96,2002.53,2012.1,2021.96,2031.53,2041.1,2050.96,2060.53,2070.1,2079.96,2089.53,2099.1,2108.96,2118.53,2128.1,2137.67,2147.53,2157.1],"format":".3f"}},
 "detail":{"field":"t"},"order":{"field":"k"}}},
{"data":{"values":[{}]},"mark":{"type":"rect","fill":"transparent","stroke":"#2e8b2e","strokeWidth":1},
 "encoding":{"x":{"datum":-0.75,"title":null},"x2":{"datum":435.75},"y":{"datum":1953.81,"title":null},"y2":{"datum":2157.685}}},
{"data":{"values":[{}]},"mark":{"type":"rect","fill":"transparent","stroke":"#f06a6a","strokeWidth":1},
 "encoding":{"x":{"datum":314.25,"title":null},"x2":{"datum":383.75},"y":{"datum":2033.66,"title":null},"y2":{"datum":2020.2}}},
{"data":{"name":"lv"},"mark":{"type":"rule","color":"#ff0000","strokeDash":[5,3],"strokeWidth":1},
 "encoding":{"y":{"field":"p","type":"quantitative","title":null}}},
{"data":{"values":[{"p":2026.27}]},"mark":{"type":"rule","color":"#8c8c8c","strokeWidth":1},
 "encoding":{"y":{"field":"p","type":"quantitative","title":null}}},
{"data":{"name":"k"},"mark":{"type":"rule","strokeWidth":1},
 "encoding":{
  "x":{"field":"i","type":"quantitative","title":null},
  "y":{"field":"l","type":"quantitative","title":null},
  "y2":{"field":"h"},
  "color":{"condition":{"test":"datum.c >= datum.o","value":"#006400"},"value":"#ff0000"}}},
{"data":{"name":"ma"},"mark":{"type":"line","strokeWidth":1},
 "encoding":{"x":{"field":"i","type":"quantitative","title":null},"y":{"field":"v","type":"quantitative","title":null},
 "color":{"field":"s","type":"nominal","scale":{"domain":["f","m","s"],"range":["#006400","#ff00ff","#ff8c00"]},"legend":null}}},
{"data":{"name":"tl"},"transform":[{"filter":"datum.k == 'b'"}],"mark":{"type":"line","strokeWidth":1,"color":"#0000ff","strokeDash":[2,2]},
 "encoding":{"x":{"field":"i","type":"quantitative","title":null},"y":{"field":"p","type":"quantitative","title":null},"detail":{"field":"s"}}},
{"data":{"name":"tl"},"transform":[{"filter":"datum.k == 'g'"}],"mark":{"type":"line","strokeWidth":1,"color":"#008000"},
 "encoding":{"x":{"field":"i","type":"quantitative","title":null},"y":{"field":"p","type":"quantitative","title":null},"detail":{"field":"s"}}},
{"data":{"name":"arr"},"mark":{"type":"line","strokeWidth":3,"color":"#f04a4a","strokeCap":"round"},
 "encoding":{"x":{"field":"i","type":"quantitative","title":null},"y":{"field":"p","type":"quantitative","title":null},"detail":{"field":"a"}}},
{"data":{"values":[{}]},"mark":{"type":"point","shape":"triangle-up","filled":true,"color":"#f04a4a","opacity":1,"size":110,"angle":27},
 "encoding":{"x":{"datum":351.5,"title":null},"y":{"datum":2030.5,"title":null}}},
{"data":{"values":[{}]},"mark":{"type":"point","shape":"triangle-up","filled":true,"color":"#f04a4a","opacity":1,"size":110,"angle":163},
 "encoding":{"x":{"datum":360.5,"title":null},"y":{"datum":2020.9,"title":null}}},
{"data":{"values":[{}]},"mark":{"type":"point","shape":"triangle-up","filled":true,"color":"#f04a4a","opacity":1,"size":110,"angle":18},
 "encoding":{"x":{"datum":370.5,"title":null},"y":{"datum":2030.4,"title":null}}},
{"data":{"values":[{}]},"mark":{"type":"point","shape":"triangle-up","filled":true,"color":"#f04a4a","opacity":1,"size":110,"angle":158},
 "encoding":{"x":{"datum":392,"title":null},"y":{"datum":2006.3,"title":null}}},
{"data":{"name":"lv"},"mark":{"type":"point","shape":"M-1,-0.24H1V0.24H-1Z","size":2116,"filled":true,"color":"#ff0000","opacity":1,"strokeWidth":0},
 "encoding":{"x":{"datum":448.25,"title":null},"y":{"field":"p","type":"quantitative","title":null}}},
{"data":{"name":"lv"},"mark":{"type":"text","align":"left","baseline":"middle","color":"#ffffff","fontSize":9.3},
 "encoding":{"x":{"datum":437.75,"title":null},"y":{"field":"p","type":"quantitative","title":null},"text":{"field":"p","type":"quantitative","format":".3f"}}},
{"data":{"values":[{"p":2026.27}]},"mark":{"type":"point","shape":"M-1,-0.24H1V0.24H-1Z","size":2116,"filled":true,"color":"#2e8b2e","opacity":1,"strokeWidth":0},
 "encoding":{"x":{"datum":448.25,"title":null},"y":{"field":"p","type":"quantitative","title":null}}},
{"data":{"values":[{"p":2026.27}]},"mark":{"type":"text","align":"left","baseline":"middle","color":"#ffffff","fontSize":9.3},
 "encoding":{"x":{"datum":437.75,"title":null},"y":{"field":"p","type":"quantitative","title":null},"text":{"field":"p","type":"quantitative","format":".3f"}}},
{"data":{"values":[{}]},"mark":{"type":"text","align":"right","baseline":"alphabetic","fontSize":38,"fontWeight":"bold","color":"#ff0000"},
 "encoding":{"x":{"datum":434.25,"title":null},"y":{"datum":2146.57,"title":null},"text":{"value":"2026.270"}}},
{"data":{"values":[{}]},"mark":{"type":"text","align":"center","baseline":"alphabetic","fontSize":32,"fontWeight":"bold","font":"Liberation Serif","color":"#ff4040"},
 "encoding":{"x":{"datum":318.75,"title":null},"y":{"datum":2084.85,"title":null},"text":{"value":"Blogngoaihoi.net"}}},
{"data":{"values":[{}]},"mark":{"type":"text","align":"right","baseline":"middle","fontSize":12,"color":"#ff0000"},
 "encoding":{"x":{"datum":425.25,"title":null},"y":{"datum":1961.7,"title":null},"text":{"value":"Spread: 200 points."}}},
{"data":{"values":[{}]},"mark":{"type":"text","align":"left","baseline":"middle","fontSize":13,"color":"#2a40ff"},
 "encoding":{"x":{"datum":348.75,"title":null},"y":{"datum":2024.3,"title":null},"text":{"value":"< 212:09"}}},
{"data":{"values":[{}]},"mark":{"type":"point","shape":"triangle-down","filled":true,"color":"#1f7a1f","opacity":1,"size":28},
 "encoding":{"x":{"datum":1.9,"title":null},"y":{"datum":2156.5,"title":null}}},
{"data":{"values":[{}]},"mark":{"type":"text","align":"left","baseline":"middle","fontSize":9.4,"color":"#2e8b2e"},
 "encoding":{"x":{"datum":6.9,"title":null},"y":{"datum":2155.9,"title":null},"text":{"value":"XAUUSDm,H4\u00a0 2024.810 2026.417 2024.810 2026.270"}}},
{"data":{"values":[{}]},"mark":{"type":"text","align":"left","baseline":"middle","fontSize":9.4,"color":"#2e8b2e"},
 "encoding":{"x":{"datum":1.1,"title":null},"y":{"datum":2151.7,"title":null},"text":{"value":"212 minutes 09 seconds left to bar end"}}}
]},
{"layer":[
{"data":{"values":[{}]},"mark":{"type":"rect","fill":"transparent","stroke":"#2e8b2e","strokeWidth":1},
 "encoding":{"x":{"datum":-0.75,"title":null},"x2":{"datum":435.75},
  "y":{"datum":-0.7,"title":null,"scale":{"domain":[-0.7,1102.1],"nice":false,"zero":false},
   "axis":{"orient":"right","tickCount":100,"values":[0,30,70,100],"labelColor":"#8a9a10","tickColor":"#2e8b2e","labelOverlap":false,"labelFlush":false,
    "labelOffset":{"condition":[{"test":"datum.value == 0","value":-6},{"test":"datum.value == 100","value":6}],"value":0}}},
  "y2":{"datum":100.7}}},
{"data":{"values":[{"r":70},{"r":30}]},"mark":{"type":"rule","color":"#c0c0c0","strokeDash":[4,3],"strokeWidth":1},
 "encoding":{"y":{"field":"r","type":"quantitative","title":null}}},
{"data":{"name":"rsi"},"mark":{"type":"line","color":"#1e90ff","strokeWidth":1},
 "encoding":{"x":{"field":"i","type":"quantitative","title":null},"y":{"field":"r","type":"quantitative","title":null}}},
{"data":{"values":[{}]},"mark":{"type":"text","align":"left","baseline":"middle","fontSize":9.3,"color":"#8a9a10"},
 "encoding":{"x":{"datum":1.75,"title":null},"y":{"datum":89.3,"title":null},"text":{"value":"RSI(14) 42.9550"}}}
]}
]
}
